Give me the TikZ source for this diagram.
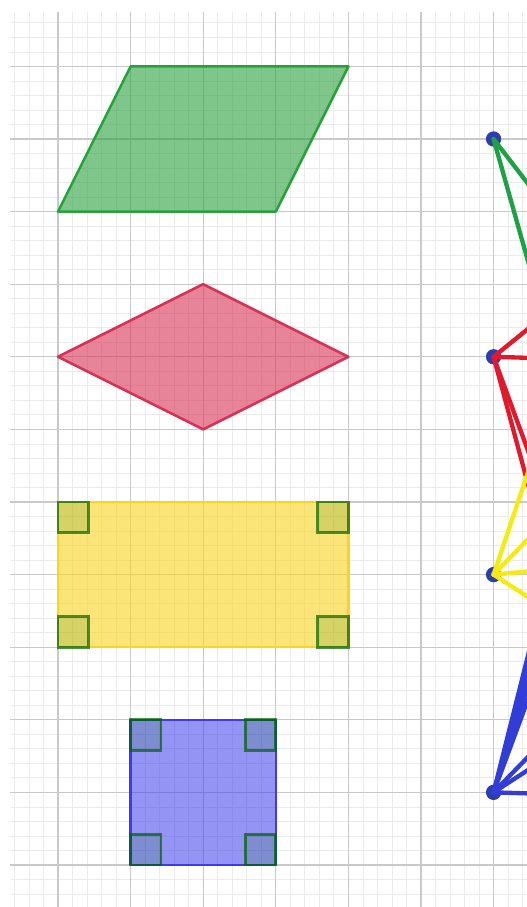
\documentclass[tikz,border=0pt]{standalone}
\usepackage{tikz}
\definecolor{polygreen}{RGB}{41,160,60}
\definecolor{polyred}{RGB}{215,50,85}
\definecolor{polyyellow}{RGB}{250,212,30}
\definecolor{polyblue}{RGB}{60,60,235}
\definecolor{markgreen}{RGB}{0,100,0}
\definecolor{dotblue}{RGB}{45,60,175}
\definecolor{raygreen}{RGB}{30,160,70}
\definecolor{rayred}{RGB}{225,25,45}
\definecolor{rayyellow}{RGB}{245,235,20}
\definecolor{rayblue}{RGB}{50,60,215}

\begin{document}
\begin{tikzpicture}[
  minorgrid/.style={draw=gray!16, line width=0.3pt},
  majorgrid/.style={draw=gray!42, line width=0.45pt},
  poly/.style={line width=1pt, line join=round, fill opacity=0.6},
  rightmark/.style={draw=markgreen, draw opacity=0.7, fill=markgreen, fill opacity=0.15, line width=1.1pt},
  dot/.style={circle, fill=dotblue, inner sep=0pt, minimum size=6pt},
  ray/.style={line width=1.7pt, line cap=round}
]
\useasboundingbox (-0.799,-0.579) rectangle (6.46,11.915);

\begin{scope}
\clip (-0.799,-0.579) rectangle (6.46,11.915);

% grid
\draw[minorgrid] (-0.66,-0.6) grid[step=0.2] (6.5,11.75);
\draw[majorgrid] (-0.66,-0.6) grid[step=1] (6.5,11.75);

% parallelogram
\draw[poly, draw=polygreen, fill=polygreen] (1,11) -- (4,11) -- (3,9) -- (0,9) -- cycle;

% rhombus
\draw[poly, draw=polyred, fill=polyred] (0,7) -- (2,8) -- (4,7) -- (2,6) -- cycle;

% rectangle
\draw[poly, draw=polyyellow, fill=polyyellow] (0,3) rectangle (4,5);
\draw[rightmark] (0,5) rectangle ++(0.42,-0.42);
\draw[rightmark] (4,5) rectangle ++(-0.42,-0.42);
\draw[rightmark] (0,3) rectangle ++(0.42,0.42);
\draw[rightmark] (4,3) rectangle ++(-0.42,0.42);

% square
\draw[poly, draw=polyblue, fill=polyblue, fill opacity=0.55] (1,0) rectangle (3,2);
\draw[rightmark] (1,2) rectangle ++(0.42,-0.42);
\draw[rightmark] (3,2) rectangle ++(-0.42,-0.42);
\draw[rightmark] (1,0) rectangle ++(0.42,0.42);
\draw[rightmark] (3,0) rectangle ++(-0.42,0.42);

% points on the right
\node[dot] (pg) at (6,10) {};
\node[dot] (pr) at (6,7) {};
\node[dot] (py) at (6,4) {};
\node[dot] (pb) at (6,1) {};

\foreach \s in {-1.30,-3.55}
  \draw[ray, raygreen] (pg.center) -- ++(1,\s);
\foreach \s in {0.81,-0.03,-3.7,-2.73}
  \draw[ray, rayred] (pr.center) -- ++(1,\s);
\foreach \s in {2.97,1.03,0.09,-0.65}
  \draw[ray, rayyellow] (py.center) -- ++(1,\s);
\foreach \s in {3.97,3.5,3.1,2.7,1.03,0.65,-0.03}
  \draw[ray, rayblue] (pb.center) -- ++(1,\s);
\end{scope}

\end{tikzpicture}
\end{document}
